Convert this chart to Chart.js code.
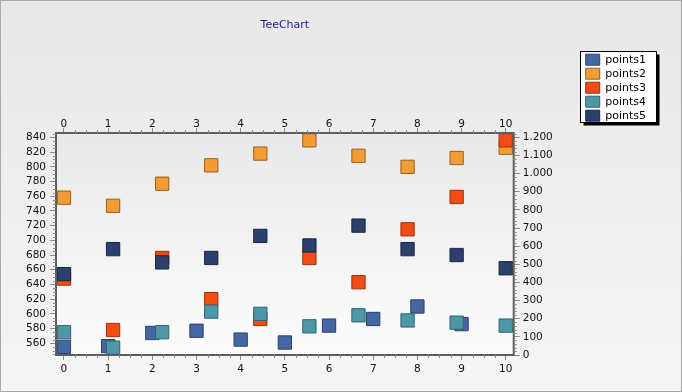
<!DOCTYPE html>
<html>
<head>
<meta charset="utf-8">
<script src="https://cdn.jsdelivr.net/npm/chart.js@4/dist/chart.umd.min.js"></script>
<style>
  html, body { margin: 0; padding: 0; background: #ececec; }
</style>
</head>
<body>
<canvas id="chart" width="682" height="392"></canvas>
<script>
const seriesNames = ["points1", "points2", "points3", "points4", "points5"];
const seriesColors = ["#4466a3", "#f39c35", "#f14c14", "#4e97a8", "#2b406b"];
const seriesBorders = ["#2b4170", "#9c5f1d", "#a0300a", "#2f6470", "#18264a"];

// points1 is placed on the bottom axis
const points1X = [0, 1, 2, 3, 4, 5, 6, 7, 8, 9];
const points1Y = [555, 556, 574, 577, 565, 561, 584, 593, 610, 586];

// points2..points5 use their own 10-point index axis
const indexX = [0, 1, 2, 3, 4, 5, 6, 7, 8, 9];
const points2Y = [758, 747, 777, 802, 818, 836, 815, 800, 812, 826];
const points3Y = [648, 578, 676, 620, 593, 676, 643, 715, 759, 836];
const points4Y = [575, 554, 575, 603, 600, 583, 598, 591, 588, 584];
const points5Y = [654, 688, 670, 676, 706, 693, 720, 688, 680, 662];

const bottomTicks = [0, 1, 2, 3, 4, 5, 6, 7, 8, 9, 10];
const leftTicks = [560, 580, 600, 620, 640, 660, 680, 700, 720, 740, 760, 780, 800, 820, 840];
const rightTicks = [0, 100, 200, 300, 400, 500, 600, 700, 800, 900, 1000, 1100, 1200];

// minor ticks between two labelled ticks
const minorTicks = { x: 3, xTop: 3, y: 3, y2: 4 };

function toPoints(xs, ys) {
  const out = [];
  for (let i = 0; i < ys.length; i++) out.push({ x: xs[i], y: ys[i] });
  return out;
}

function thousands(v) {
  if (v < 1000) return String(v);
  return Math.floor(v / 1000) + "." + String(v % 1000).padStart(3, "0");
}

const seriesData = [
  toPoints(points1X, points1Y),
  toPoints(indexX, points2Y),
  toPoints(indexX, points3Y),
  toPoints(indexX, points4Y),
  toPoints(indexX, points5Y),
];

const datasets = seriesNames.map((name, i) => ({
  label: name,
  data: seriesData[i],
  xAxisID: i === 0 ? "x" : "xIdx",
  yAxisID: "y",
  pointStyle: "rect",
  pointRadius: 9.4,
  pointHoverRadius: 9.4,
  backgroundColor: seriesColors[i],
  borderColor: seriesBorders[i],
  borderWidth: 1,
  showLine: false,
  order: seriesNames.length - i,
}));

const tickFont = { family: "DejaVu Sans", size: 10.5 };

const backdrop = {
  id: "backdrop",
  beforeDraw(chart) {
    const ctx = chart.ctx;
    const a = chart.chartArea;
    ctx.save();
    let g = ctx.createLinearGradient(0, 0, 0, chart.height);
    g.addColorStop(0, "#e8e8e8");
    g.addColorStop(1, "#f5f5f5");
    ctx.fillStyle = g;
    ctx.fillRect(0, 0, chart.width, chart.height);
    ctx.strokeStyle = "#a8a8a8";
    ctx.lineWidth = 1;
    ctx.strokeRect(0.5, 0.5, chart.width - 1, chart.height - 1);

    g = ctx.createLinearGradient(0, a.top, 0, a.bottom);
    g.addColorStop(0, "#e9e9e9");
    g.addColorStop(1, "#fcfcfc");
    ctx.fillStyle = g;
    ctx.fillRect(a.left, a.top, a.right - a.left, a.bottom - a.top);

    // legend frame with shadow
    const boxes = chart.legend.legendHitBoxes;
    if (boxes && boxes.length) {
      let l = Infinity, t = Infinity, r = -Infinity, b = -Infinity;
      boxes.forEach(h => {
        l = Math.min(l, h.left); t = Math.min(t, h.top);
        r = Math.max(r, h.left + h.width); b = Math.max(b, h.top + h.height);
      });
      l = Math.round(l - 6) + 0.5; t = Math.round(t - 3) + 0.5;
      r = Math.round(r + 10) + 0.5; b = Math.round(b + 1) + 0.5;
      ctx.fillStyle = "#000";
      ctx.fillRect(l + 3, t + 3, r - l, b - t);
      ctx.fillStyle = "#fff";
      ctx.fillRect(l, t, r - l, b - t);
      ctx.strokeStyle = "#000";
      ctx.strokeRect(l, t, r - l, b - t);
    }
    ctx.restore();
  },
  afterDatasetsDraw(chart) {
    const ctx = chart.ctx;
    const a = chart.chartArea;
    ctx.save();
    ctx.strokeStyle = "#5e5e5e";
    ctx.lineWidth = 2;
    ctx.strokeRect(a.left, a.top, a.right - a.left, a.bottom - a.top);
    ctx.restore();
  },
  afterDraw(chart) {
    const ctx = chart.ctx;
    ctx.save();
    ctx.strokeStyle = "#8c8c8c";
    ctx.lineWidth = 1;
    ctx.beginPath();
    for (const id in minorTicks) {
      const s = chart.scales[id];
      const vals = s.ticks.map(t => t.value);
      if (vals.length < 2) continue;
      const step = (vals[1] - vals[0]) / (minorTicks[id] + 1);
      for (let v = vals[0] - step * minorTicks[id]; v < s.max; v += step) {
        if (v < s.min) continue;
        const onMajor = vals.some(m => Math.abs(m - v) < step / 2);
        if (onMajor) continue;
        const p = Math.round(s.getPixelForValue(v)) + 0.5;
        if (s.position === "left") { ctx.moveTo(s.right - 3, p); ctx.lineTo(s.right, p); }
        if (s.position === "right") { ctx.moveTo(s.left, p); ctx.lineTo(s.left + 3, p); }
        if (s.position === "bottom") { ctx.moveTo(p, s.top); ctx.lineTo(p, s.top + 3); }
        if (s.position === "top") { ctx.moveTo(p, s.bottom - 3); ctx.lineTo(p, s.bottom); }
      }
    }
    ctx.stroke();
    ctx.restore();
  },
};

function axisGrid(len) {
  return { drawOnChartArea: false, drawTicks: true, tickLength: len, tickColor: "#8c8c8c" };
}

new Chart(document.getElementById("chart").getContext("2d"), {
  type: "scatter",
  data: { datasets: datasets },
  options: {
    responsive: false,
    animation: false,
    devicePixelRatio: 1,
    layout: { padding: { left: 0, top: 0, right: 26, bottom: 8 } },
    plugins: {
      title: {
        display: true,
        text: "TeeChart",
        fullSize: false,
        color: "#1c1c8c",
        font: { family: "DejaVu Sans", size: 11, weight: "normal" },
        padding: { top: 19, bottom: 80.8 },
      },
      legend: {
        position: "right",
        align: "start",
        title: { display: true, text: "", font: { size: 1 }, padding: { top: 50, bottom: 0 } },
        labels: {
          boxWidth: 14,
          boxHeight: 11,
          padding: 3,
          color: "#000",
          font: { family: "DejaVu Sans", size: 11 },
          sort: (a, b) => a.datasetIndex - b.datasetIndex,
        },
      },
      tooltip: { enabled: false },
    },
    scales: {
      x: {
        type: "linear",
        position: "bottom",
        min: -0.18,
        max: 10.18,
        afterBuildTicks: s => { s.ticks = bottomTicks.map(v => ({ value: v })); },
        afterFit: s => { s.height = 29; },
        grid: axisGrid(5),
        border: { display: false },
        ticks: { font: tickFont, color: "#111", padding: 3, maxRotation: 0 },
      },
      xTop: {
        type: "linear",
        position: "top",
        min: -0.18,
        max: 10.18,
        afterBuildTicks: s => { s.ticks = bottomTicks.map(v => ({ value: v })); },
        afterFit: s => { s.height = 20; },
        grid: axisGrid(5),
        border: { display: false },
        ticks: { font: tickFont, color: "#111", padding: -2.5, maxRotation: 0 },
      },
      xIdx: {
        type: "linear",
        display: false,
        min: -0.163,
        max: 9.163,
      },
      y: {
        type: "linear",
        position: "left",
        min: 544,
        max: 846,
        afterBuildTicks: s => { s.ticks = leftTicks.map(v => ({ value: v })); },
        afterFit: s => { s.width = 56; },
        grid: axisGrid(6),
        border: { display: false },
        ticks: { font: tickFont, color: "#111", padding: 4 },
      },
      y2: {
        type: "linear",
        position: "right",
        min: 0,
        max: 1224,
        afterBuildTicks: s => { s.ticks = rightTicks.map(v => ({ value: v })); },
        afterFit: s => { s.width = 69; },
        grid: axisGrid(6),
        border: { display: false },
        ticks: { font: tickFont, color: "#111", padding: 3, callback: v => thousands(v) },
      },
    },
  },
  plugins: [backdrop],
});
</script>
</body>
</html>
